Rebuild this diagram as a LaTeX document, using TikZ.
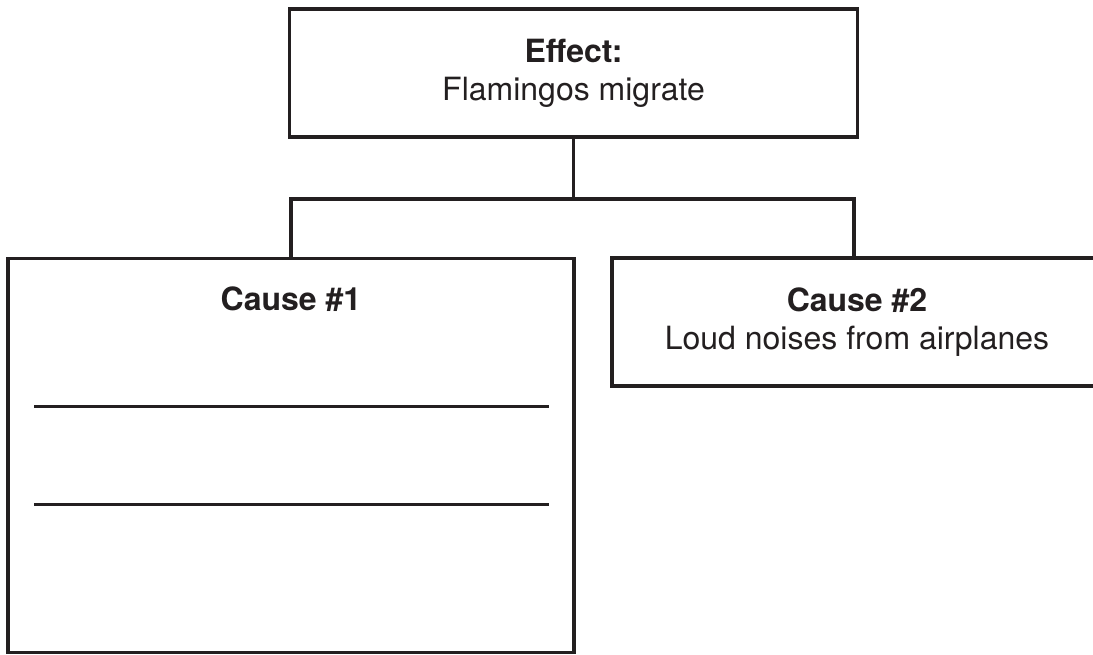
\documentclass[tikz,border=0pt]{standalone}
\usepackage{fontspec}
\setmainfont{TeX Gyre Heros}
\definecolor{ink}{HTML}{231F20}
\begin{document}
\begin{tikzpicture}[x=1pt,y=-1pt,
    box/.style={draw=ink,line width=3.2pt,text=ink,align=center,inner sep=0pt,
      font=\fontsize{32}{38}\selectfont},
    link/.style={draw=ink,line width=3.2pt}]
  \useasboundingbox (0,0) rectangle (1093,654);
  % effect box and the two causes
  \node[box,minimum width=568pt,minimum height=128pt] (effect) at (573.5,73) {\textbf{Effect:}\\Flamingos migrate};
  \node[box,minimum width=566pt,minimum height=394pt] (cause1) at (291,455.5) {};
  \node[box,minimum width=490pt,minimum height=128pt] (cause2) at (857,322) {\textbf{Cause \#2}\\Loud noises from airplanes};
  \node[text=ink,anchor=base,inner sep=0pt,font=\fontsize{32}{38}\selectfont] (title1) at (291,310.5) {\textbf{Cause \#1}};
  % tree connectors
  \draw[link] (effect.south) -- (573.5,199) coordinate (fork);
  \draw[link] (cause1.north) |- (fork) -| ([xshift=-3pt]cause2.north);
  % lines to write on
  \draw[ink,line width=2.8pt] (34,406.7) -- (549,406.7);
  \draw[ink,line width=2.8pt] (34,504.7) -- (549,504.7);
\end{tikzpicture}
\end{document}
